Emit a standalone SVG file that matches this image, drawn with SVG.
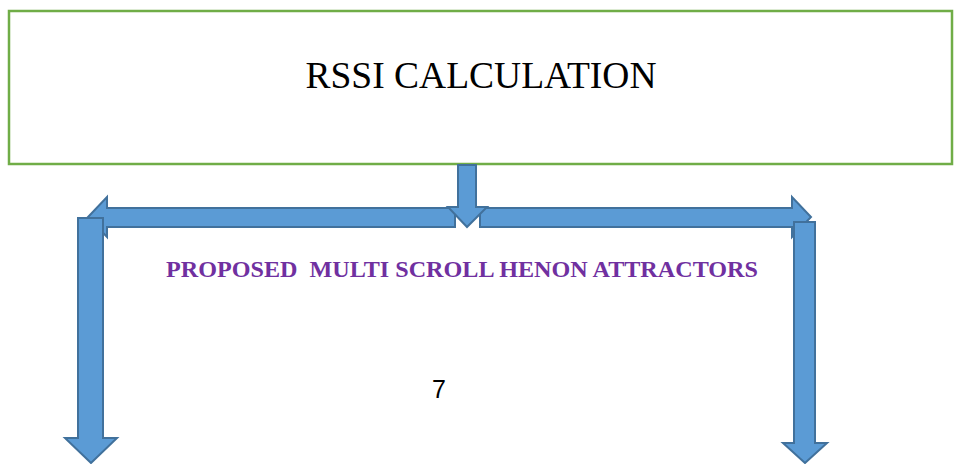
<svg xmlns="http://www.w3.org/2000/svg" width="955" height="464" viewBox="0 0 955 464">
<style>
.arrow{fill:#5B9BD5;stroke:#41719C;stroke-width:2;stroke-linejoin:miter}
.box{fill:#FFFFFF;stroke:#70AD47;stroke-width:2.5}
.title{font-family:"Liberation Serif","Times New Roman",serif;font-size:37.5px;fill:#000000}
.sub{font-family:"Liberation Serif","Times New Roman",serif;font-size:23px;font-weight:bold;fill:#7030A0}
.num{font-family:"Liberation Sans",Arial,sans-serif;font-size:25px;fill:#000000}
</style>
<rect width="955" height="464" fill="#FFFFFF"/>
<g id="rssi-box">
<rect class="box" x="9" y="11" width="943" height="153"/>
<text class="title" x="481" y="88" text-anchor="middle">RSSI CALCULATION</text>
</g>
<g id="connectors">
<polygon class="arrow" points="455,208 107,208 107,197 88,217 107,237 107,227 455,227"/>
<polygon class="arrow" points="480,208 792,208 792,197 811,217 792,237 792,227 480,227"/>
<polygon class="arrow" points="458,165 476,165 476,207 487,207 467,227 448,207 458,207"/>
<polygon class="arrow" points="78,218 103,218 103,438 117,438 91,463 65,438 78,438"/>
<polygon class="arrow" points="794,222 815,222 815,443 827,443 805,463 783,443 794,443"/>
</g>
<g id="label">
<text class="sub" x="166" y="277" textLength="592" lengthAdjust="spacingAndGlyphs" xml:space="preserve">PROPOSED  MULTI SCROLL HENON ATTRACTORS</text>
</g>
<g id="page-number">
<text class="num" x="439" y="398" text-anchor="middle">7</text>
</g>
</svg>
